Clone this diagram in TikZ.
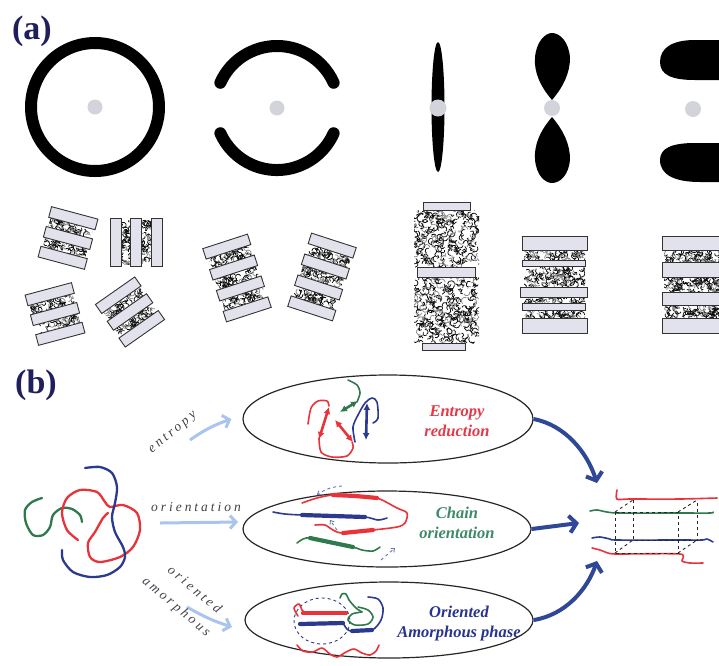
\documentclass[tikz,border=0pt]{standalone}
\usepackage{fontspec}
\setmainfont{Liberation Serif}
\newfontfamily\spacedfont[LetterSpace=22]{Liberation Serif}
\usetikzlibrary{arrows.meta,shapes.geometric}

\definecolor{navylab}{HTML}{1E1F5C}
\definecolor{dotgray}{HTML}{D3D3DB}
\definecolor{plategray}{HTML}{E2E2EC}
\definecolor{chred}{HTML}{E8333A}
\definecolor{chgreen}{HTML}{2F7A4C}
\definecolor{chblue}{HTML}{2B3A8E}
\definecolor{lightarrow}{HTML}{AAC4EE}
\definecolor{navyarrow}{HTML}{2E4796}
\definecolor{txtred}{HTML}{E23A4A}
\definecolor{txtgreen}{HTML}{3E8A68}
\definecolor{txtblue}{HTML}{27338E}
\definecolor{lblgray}{HTML}{404048}

% crumpled amorphous layer between two lamellae
\newcommand\amorph[5][8]{%
  \begin{scope}
    \clip (#2,#3) rectangle (#4,#5);
    \fill[white] (#2,#3) rectangle (#4,#5);
    \pgfmathtruncatemacro\amN{abs((#4-#2)*(#5-#3))/#1}
    \foreach \k in {1,...,\amN}{%
      \pgfmathsetmacro\amx{#2+rnd*(#4-#2)}%
      \pgfmathsetmacro\amy{#3+rnd*(#5-#3)}%
      \pgfmathsetmacro\ama{rnd*360}%
      \pgfmathsetmacro\amr{1.4+rnd*2.4}%
      \pgfmathsetmacro\amg{rnd>0.7 ? 45 : 95}%
      \draw[line width=0.75,black!\amg] (\amx,\amy) arc[start angle=\ama, delta angle=170, radius=\amr];
    }
  \end{scope}}
\newcommand\platebar[3]{\draw[plate] (-#1,#2) rectangle (#1,#3);}
% three lamellae, two amorphous layers
\newcommand\threestack[3]{%
  \begin{scope}[shift={(#1,#2)},rotate=#3]
    \amorph{-22}{-15.5}{22}{-5}\amorph{-22}{5}{22}{15.5}
    \platebar{24}{-26}{-15}\platebar{24}{-5.5}{5.5}\platebar{24}{15}{26}
  \end{scope}}
% four lamellae, three amorphous layers
\newcommand\fourstack[3]{%
  \begin{scope}[shift={(#1,#2)},rotate=#3]
    \amorph{-21.5}{-28}{21.5}{-16}\amorph{-21.5}{-6}{21.5}{6}\amorph{-21.5}{16}{21.5}{28}
    \platebar{23.5}{-38.5}{-27.5}\platebar{23.5}{-16.5}{-5.5}\platebar{23.5}{5.5}{16.5}\platebar{23.5}{27.5}{38.5}
  \end{scope}}

\begin{document}
\begin{tikzpicture}[x=1pt,y=-1pt,
  plate/.style={fill=plategray,draw=black!80,line width=0.9},
  panellab/.style={font=\fontsize{34}{36}\selectfont\bfseries,text=navylab,inner sep=0},
  ell/.style={ellipse,draw=black!85,line width=1.2,inner sep=0},
  etxt/.style={font=\fontsize{16.5}{20}\selectfont\bfseries\itshape,align=center,inner sep=0},
  alab/.style={font=\spacedfont\itshape\fontsize{13.5}{15}\selectfont,text=lblgray,inner sep=0},
  chain/.style={line width=2.3,line cap=round,line join=round},
  thin/.style={line width=1.6,line cap=round,line join=round},
  thick/.style={line width=4.2,line cap=round},
  dbl/.style={line width=2.6,{Latex[length=7pt,width=7pt]}-{Latex[length=7pt,width=7pt]}},
  dsh/.style={chblue!70,dashed,line width=0.9,-{Straight Barb[length=3pt,width=5pt]}},
  lbarrow/.style={lightarrow,line width=3,-{Straight Barb[length=6pt,width=13pt]}},
  nvarrow/.style={navyarrow,line width=4,-{Straight Barb[length=7pt,width=17pt]}},
  box/.style={black!85,dashed,line width=0.9}]
\useasboundingbox (0,0) rectangle (719,665);
\pgfmathsetseed{11}

% ---------------- (a) scattering patterns ----------------
\node[panellab] (la) at (32,31) {(a)};

\draw[line width=12] (95,107) circle[radius=64];
\draw[line width=12,line cap=round] (277,108) ++(24:62) arc[start angle=24,end angle=156,radius=62];
\draw[line width=12,line cap=round] (277,108) ++(204:62) arc[start angle=204,end angle=336,radius=62];
\fill (438,107) ellipse[x radius=6.5,y radius=65];
\fill (552,100) .. controls (540,86) and (534,72) .. (535,58) .. controls (536,42) and (545,33) .. (552,33)
      .. controls (560,33) and (569,42) .. (570,58) .. controls (570,72) and (564,86) .. (552,100) -- cycle;
\fill (552,117) .. controls (540,131) and (534,145) .. (535,159) .. controls (536,175) and (545,183) .. (552,183)
      .. controls (560,183) and (569,175) .. (570,159) .. controls (570,145) and (564,131) .. (552,117) -- cycle;
\fill (725,40) -- (695,40) .. controls (672,40) and (660,48) .. (660,62) .. controls (660,75) and (672,80) .. (695,80) -- (725,80) -- cycle;
\fill (725,143) -- (695,143) .. controls (672,143) and (660,148) .. (660,160) .. controls (660,175) and (675,182) .. (700,182) -- (725,182) -- cycle;

\fill[dotgray] (95,107) circle[radius=7.5];
\fill[dotgray] (277,108) circle[radius=7.5];
\fill[dotgray] (438,108) circle[radius=8.5];
\fill[dotgray] (552,108) circle[radius=8];
\fill[dotgray] (693,109) circle[radius=8];

% ---------------- (a) lamellar stacks ----------------
\threestack{68}{238}{-15}
\threestack{136}{242}{90}
\threestack{55}{314}{15}
\threestack{130}{312}{35}
\fourstack{237}{278}{18}
\fourstack{322}{277}{-18}

% tall swollen stack
\amorph[13]{414}{210}{479}{267}
\amorph[13]{414}{277}{479}{343}
\draw[plate] (423,202) rectangle (470,210);
\draw[plate] (417,267) rectangle (475,277);
\draw[plate] (422,343) rectangle (465,350);

% stack with thin lamellae
\amorph{524}{250}{585}{260}
\amorph[10]{524}{266}{585}{287}
\amorph{524}{297}{585}{303}
\amorph{524}{310}{585}{318}
\draw[plate] (522,236) rectangle (587,250);
\draw[plate] (522,260) rectangle (585,266);
\draw[plate] (520,287) rectangle (587,297);
\draw[plate] (522,303) rectangle (585,310);
\draw[plate] (522,318) rectangle (587,333);

% regular stack at the edge
\amorph{664}{250}{725}{262}
\amorph{664}{277}{725}{292}
\amorph{664}{305}{725}{318}
\draw[plate] (662,236) rectangle (730,250);
\draw[plate] (662,262) rectangle (730,277);
\draw[plate] (662,292) rectangle (730,305);
\draw[plate] (662,318) rectangle (730,333);

% ---------------- (b) ----------------
\node[panellab] (lb) at (36,385) {(b)};

% entangled chains
\draw[chain,chgreen] plot[smooth] coordinates {(42,498) (32,502) (25,510) (26,523) (33,535) (43,535) (50,527) (53,515) (62,508) (72,509) (80,515) (82,522)};
\draw[chain,chred] plot[smooth] coordinates {(78,540) (67,530) (62,513) (67,498) (80,490) (97,492) (105,502) (110,507) (123,505) (137,513) (140,530) (133,547) (120,557) (100,562) (90,557) (88,543) (95,532) (103,518) (108,513)};
\draw[chain,chblue] plot[smooth] coordinates {(85,468) (100,467) (112,473) (117,487) (115,503) (112,517) (115,532) (123,547) (125,557) (120,567) (107,575) (90,577) (73,572) (63,560) (62,550)};

% process ellipses
\node[ell,minimum width=290,minimum height=88] (e1) at (388,419) {};
\node[ell,minimum width=288,minimum height=76] (e2) at (387,529) {};
\node[ell,minimum width=288,minimum height=76] (e3) at (389,620) {};

\node[etxt,text=txtred] (te1) at (457,421) {Entropy\\reduction};
\node[etxt,text=txtgreen] (te2) at (457,523) {Chain\\orientation};
\node[etxt,text=txtblue] (te3) at (459,624) {Oriented\\Amorphous phase};

% light arrows with their labels
\coordinate (s1) at (190,440);
\coordinate (s2) at (160,523);
\coordinate (s3) at (187,607);
\coordinate (h1) at ([xshift=-11]e1.west);
\coordinate (h2) at (238,522);
\coordinate (h3) at (232,627);
\draw[lbarrow] (s1) to[bend left=8] (h1);
\draw[lbarrow] (s2) -- (h2);
\draw[lbarrow] (s3) to[bend right=6] (h3);
\node[alab,rotate=40] (l1) at (173,433) {entropy};
\node[alab] (l2) at (196,507) {orientation};
\node[alab,rotate=-40] (l3) at (195,589) {oriented};
\node[alab,rotate=-40] (l4) at (176,607) {amorphous};

% entropy reduction sketch
\draw[thin,chred] plot[smooth] coordinates {(308,424) (311,408) (318,401) (327,401) (329,406)};
\draw[thin,chred] plot[smooth] coordinates {(319,438) (321,452) (332,457) (347,456) (353,448) (352,442)};
\draw[thin,chgreen] plot[smooth] coordinates {(348,380) (357,385) (360,393) (357,402)};
\draw[thin,chblue] plot[smooth] coordinates {(355,442) (353,427) (358,415) (365,403) (372,398) (377,402) (378,418) (373,423)};
\draw[dbl,chred] (329,407) -- (319,439);
\draw[dbl,chred] (335,420) -- (353,442);
\draw[dbl,chgreen] (340,412) -- (358,401);
\draw[dbl,chblue] (367,403) -- (366,440);

% chain orientation sketch
\draw[thin,chred] plot[smooth] coordinates {(302,503) (317,498) (333,495) (355,496) (377,498) (397,508) (407,513) (405,523) (397,527) (373,530) (343,533) (333,530) (325,525) (315,525)};
\draw[thick,chred] plot[smooth] coordinates {(333,495) (355,496) (377,498)};
\draw[thick,chred] (373,530) -- (343,533);
\draw[thin,chblue] plot[smooth] coordinates {(273,512) (285,514) (302,515) (335,516) (365,517) (378,520) (387,518)};
\draw[thick,chblue] (302,515) -- (365,517);
\draw[thin,chgreen] plot[smooth] coordinates {(297,543) (303,539) (310,538) (330,542) (353,547) (362,550) (373,551) (380,547)};
\draw[thick,chgreen] (310,538) -- (353,547);
\draw[dsh] (342,486) to[bend right=15] (317,495);
\draw[dsh] (337,530) -- (330,520);
\draw[dsh] (381,560) -- (395,548);

% oriented amorphous sketch
\draw[chblue,dashed,line width=0.9] (322,621) ellipse[x radius=28,y radius=23];
\draw[thin,chred] plot[smooth] coordinates {(298,616) (294,608) (299,604) (302,610) (305,613)};
\draw[thick,chred] (303,613) -- (346,613);
\draw[thin,chblue] plot[smooth] coordinates {(343,623) (347,629) (352,631) (372,630) (381,620) (383,608) (378,599) (368,597)};
\draw[thick,chblue] (300,624) -- (343,623);
\draw[thick,chblue] (352,631) -- (372,630);
\draw[thin,chgreen] plot[smooth] coordinates {(340,598) (342,594) (346,594) (349,600) (356,608) (362,612)};
\draw[thin,chgreen] plot[smooth] coordinates {(362,612) (352,614) (348,620) (355,625) (368,624) (373,617) (368,610) (358,607)};
\draw[thin,chred] plot[smooth] coordinates {(297,645) (303,651) (313,652) (322,648) (330,654) (337,657) (346,652) (354,649) (362,653) (370,655) (376,651) (379,645)};

% arrows into the crystal
\coordinate (c1) at (597,483);
\coordinate (c2) at (579,523);
\coordinate (c3) at (597,561);
\draw[nvarrow] (e1.east) .. controls (565,425) and (587,452) .. (c1);
\draw[nvarrow] (e2.east) -- (c2);
\draw[nvarrow] (e3.east) .. controls (565,615) and (587,590) .. (c3);

% crystal: four chains and the unit cell
\draw[thin,chred] plot[smooth] coordinates {(617,490) (617,499) (630,499) (680,499) (717,498)};
\draw[thin,chgreen] plot[smooth] coordinates {(590,511) (597,510) (607,512) (620,513) (680,513) (710,513) (713,512)};
\draw[thin,chblue] plot[smooth] coordinates {(592,538) (600,537) (610,539) (617,540) (680,540) (702,540) (707,539) (713,542)};
\draw[thin,chred] plot[smooth,tension=0.4] coordinates {(592,548) (600,550) (608,553) (617,554) (680,554) (682,561) (690,563) (703,563)};
\draw[box] (615,512) -- (615,553) -- (678,553) -- (678,512) -- cycle;
\draw[box] (633,500) -- (633,540) -- (697,540) -- (697,500);
\draw[box] (615,512) -- (633,500);
\draw[box] (678,512) -- (697,500);
\draw[box] (615,553) -- (633,540);
\draw[box] (678,553) -- (697,540);
\end{tikzpicture}
\end{document}
